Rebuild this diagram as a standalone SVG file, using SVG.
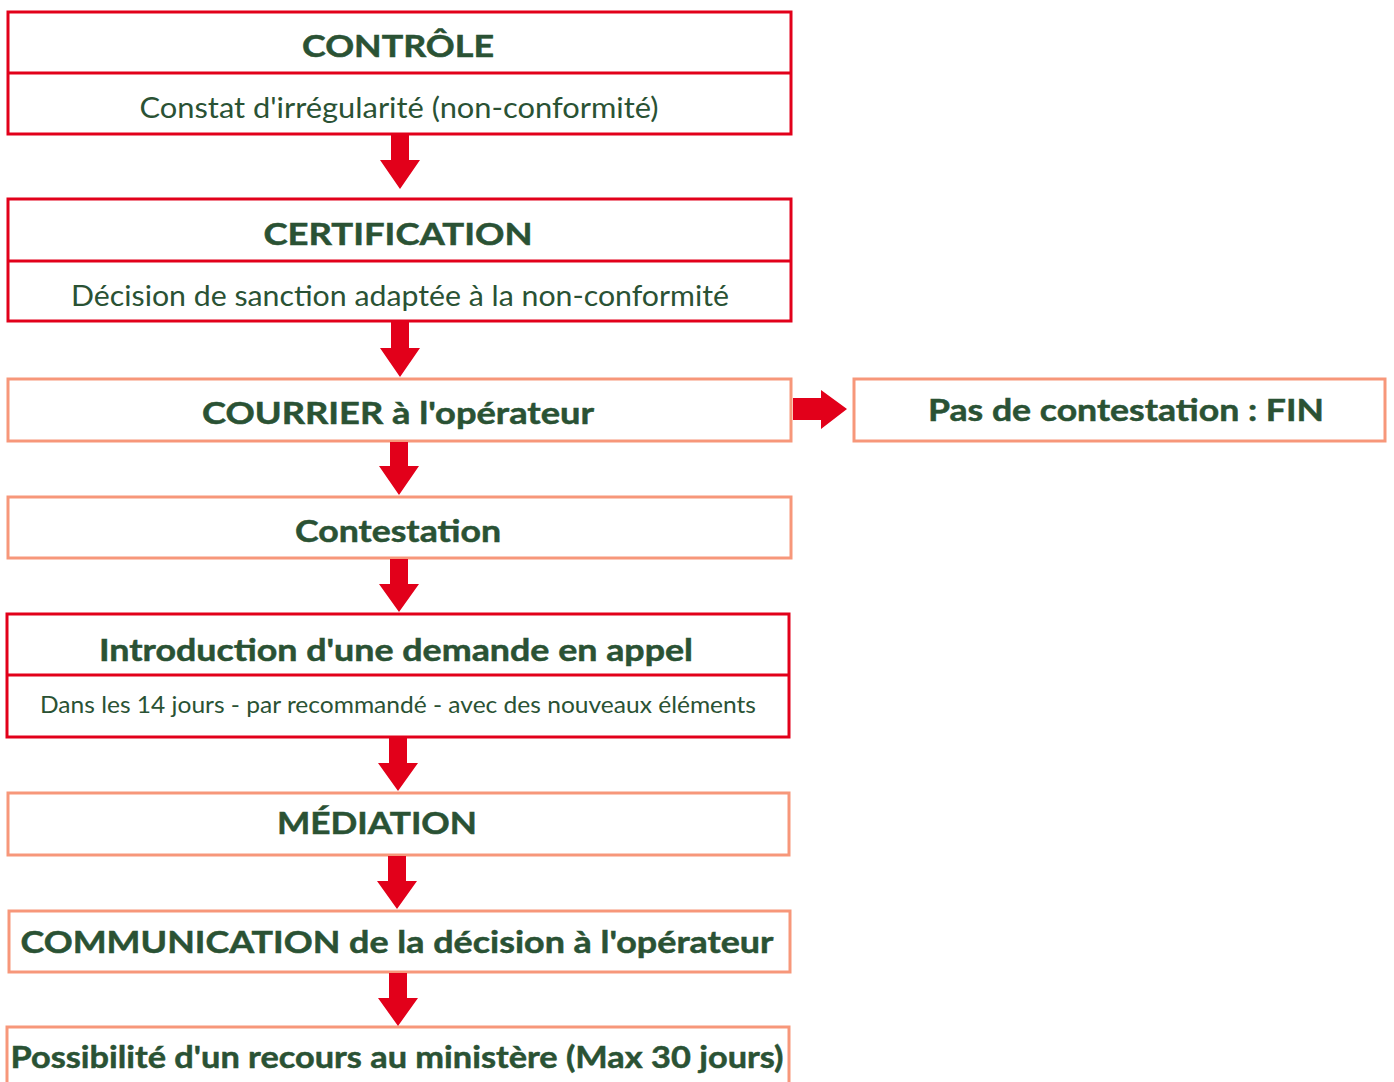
<svg xmlns="http://www.w3.org/2000/svg" width="1394" height="1082" viewBox="0 0 1394 1082">
<style>
.red{fill:#fff;stroke:#e2001a;stroke-width:3}
.sal{fill:#fff;stroke:#f7977a;stroke-width:3}
.div{stroke:#e2001a;stroke-width:3}
.t{font-family:Lato,"Open Sans",sans-serif;font-weight:bold;fill:#2a5234;text-anchor:middle;stroke:#2a5234;stroke-width:0.5}
.s{font-family:Lato,"Open Sans",sans-serif;font-weight:normal;fill:#2a5234;text-anchor:middle}
.arr{fill:#e2001a}
</style>
<g id="controle">
<rect class="red" x="8" y="12" width="783" height="122"/>
<line class="div" x1="8" y1="73" x2="791" y2="73"/>
<text class="t" x="398" y="57" font-size="31" textLength="192" lengthAdjust="spacingAndGlyphs">CONTRÔLE</text>
<text class="s" x="399" y="118" font-size="28" textLength="519" lengthAdjust="spacingAndGlyphs">Constat d'irrégularité (non-conformité)</text>
</g>
<g id="certification">
<rect class="red" x="8" y="199" width="783" height="122"/>
<line class="div" x1="8" y1="261" x2="791" y2="261"/>
<text class="t" x="398" y="245" font-size="31" textLength="269" lengthAdjust="spacingAndGlyphs">CERTIFICATION</text>
<text class="s" x="400" y="306" font-size="28" textLength="658" lengthAdjust="spacingAndGlyphs">Décision de sanction adaptée à la non-conformité</text>
</g>
<g id="courrier">
<rect class="sal" x="8" y="379" width="783" height="62"/>
<text class="t" x="398" y="424" font-size="31" textLength="392" lengthAdjust="spacingAndGlyphs">COURRIER à l'opérateur</text>
</g>
<g id="fin">
<rect class="sal" x="854" y="379" width="531" height="62"/>
<text class="t" x="1126" y="421" font-size="31" textLength="396" lengthAdjust="spacingAndGlyphs">Pas de contestation : FIN</text>
</g>
<g id="contestation">
<rect class="sal" x="8" y="497" width="783" height="61"/>
<text class="t" x="398" y="542" font-size="31" textLength="206" lengthAdjust="spacingAndGlyphs">Contestation</text>
</g>
<g id="introduction">
<rect class="red" x="7" y="614" width="782" height="123"/>
<line class="div" x1="7" y1="675" x2="789" y2="675"/>
<text class="t" x="396" y="661" font-size="31" textLength="594" lengthAdjust="spacingAndGlyphs">Introduction d'une demande en appel</text>
<text class="s" x="398" y="713" font-size="23" textLength="716" lengthAdjust="spacingAndGlyphs">Dans les 14 jours - par recommandé - avec des nouveaux éléments</text>
</g>
<g id="mediation">
<rect class="sal" x="8" y="793" width="781" height="62"/>
<text class="t" x="377" y="834" font-size="31" textLength="200" lengthAdjust="spacingAndGlyphs">MÉDIATION</text>
</g>
<g id="communication">
<rect class="sal" x="9" y="911" width="781" height="61"/>
<text class="t" x="397" y="953" font-size="31" textLength="753" lengthAdjust="spacingAndGlyphs">COMMUNICATION de la décision à l'opérateur</text>
</g>
<g id="possibilite">
<rect class="sal" x="7" y="1027" width="782" height="62"/>
<text class="t" x="397" y="1068" font-size="31" textLength="773" lengthAdjust="spacingAndGlyphs">Possibilité d'un recours au ministère (Max 30 jours)</text>
</g>
<g id="connectors">
<polygon class="arr" points="391,135 409,135 409,160 420,160 400,189 380,160 391,160"/>
<polygon class="arr" points="391,322 409,322 409,348 420,348 400,377 380,348 391,348"/>
<polygon class="arr" points="390,442 408,442 408,466 419,466 399,495 379,466 390,466"/>
<polygon class="arr" points="390,559 408,559 408,584 419,584 399,612 379,584 390,584"/>
<polygon class="arr" points="389,738 407,738 407,763 418,763 398,791 378,763 389,763"/>
<polygon class="arr" points="388,856 406,856 406,881 417,881 397,909 377,881 388,881"/>
<polygon class="arr" points="389,973 407,973 407,998 418,998 398,1026 378,998 389,998"/>
<polygon class="arr" points="793,398 821,398 821,390 847,409 821,429 821,420 793,420"/>
</g>
</svg>
